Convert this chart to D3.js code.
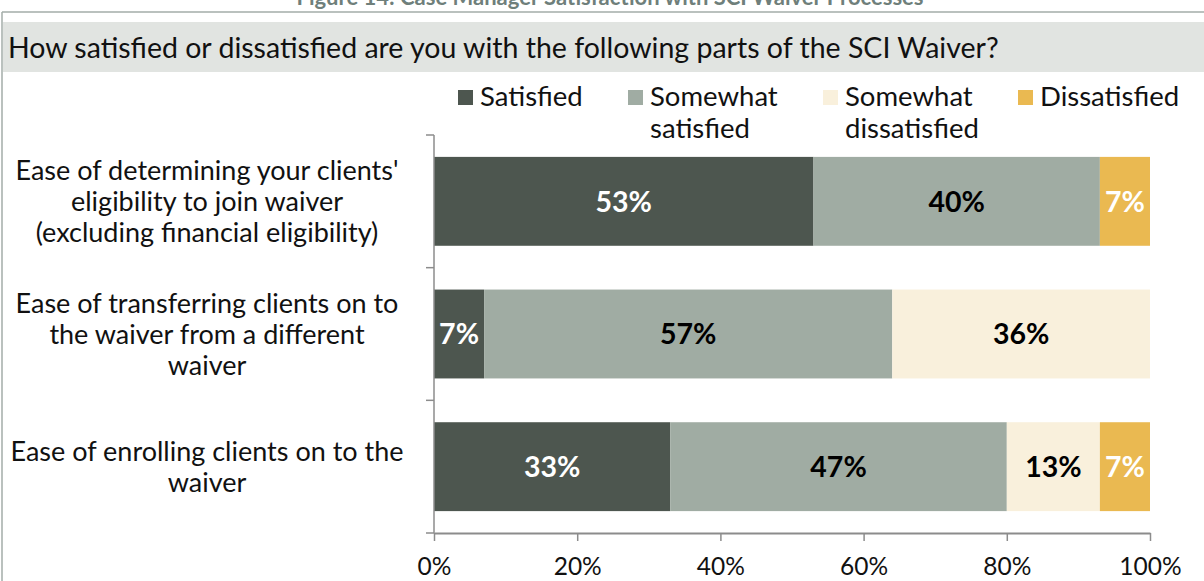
<!DOCTYPE html>
<html>
<head>
<meta charset="utf-8">
<script src="https://cdn.jsdelivr.net/npm/d3@7"></script>
<style>
  body { margin: 0; background: #fff; }
  svg { display: block; font-family: Lato, "Open Sans", sans-serif; }
</style>
</head>
<body>
<div id="chart"></div>
<script>
// data
var categories = [
  ["Ease of determining your clients'", "eligibility to join waiver", "(excluding financial eligibility)"],
  ["Ease of transferring clients on to", "the waiver from a different", "waiver"],
  ["Ease of enrolling clients on to the", "waiver"]
];
var seriesNames = [["Satisfied"], ["Somewhat", "satisfied"], ["Somewhat", "dissatisfied"], ["Dissatisfied"]];
var satisfied = [53, 7, 33];
var somewhatSatisfied = [40, 57, 47];
var somewhatDissatisfied = [0, 36, 13];
var dissatisfied = [7, 0, 7];
var xTicks = [0, 20, 40, 60, 80, 100];

var colors = ["#4d564f", "#a0aca3", "#f9f0dc", "#eab951"];
var labelColors = ["#fff", "#000", "#000", "#fff"];

var width = 1204, height = 581;
var margin = {top: 135, right: 54, bottom: 48, left: 434};
var w = width - margin.left - margin.right,
    h = height - margin.top - margin.bottom;

var svg = d3.select("#chart").append("svg")
  .attr("width", width)
  .attr("height", height);

// title, frame and question band
svg.append("text")
  .attr("x", 610).attr("y", 5)
  .attr("text-anchor", "middle")
  .style("font-size", "22px").style("font-weight", "bold")
  .style("fill", "#6f7f7b")
  .text("Figure 14: Case Manager Satisfaction with SCI Waiver Processes");
svg.append("line").attr("x1", 2).attr("x2", width).attr("y1", 12).attr("y2", 12)
  .style("stroke", "#a3ada8").style("stroke-width", 1.5);
svg.append("line").attr("x1", 2).attr("x2", 2).attr("y1", 12).attr("y2", height)
  .style("stroke", "#a3ada8").style("stroke-width", 1.5);
svg.append("rect").attr("x", 3).attr("y", 22).attr("width", width - 3).attr("height", 50)
  .style("fill", "#e1e4e1");
svg.append("text")
  .attr("x", 8).attr("y", 58)
  .style("font-size", "28.5px").style("fill", "#111")
  .text("How satisfied or dissatisfied are you with the following parts of the SCI Waiver?");

// build stacked rows
var table = categories.map(function(c, i) {
  return {idx: i, s0: satisfied[i], s1: somewhatSatisfied[i], s2: somewhatDissatisfied[i], s3: dissatisfied[i]};
});
var stack = d3.stack().keys(["s0", "s1", "s2", "s3"])(table);

var x = d3.scaleLinear().domain([0, 100]).range([0, w]);
var y = d3.scaleBand().domain(d3.range(categories.length)).range([0, h]).paddingInner(0.33).paddingOuter(0.165);

var g = svg.append("g").attr("transform", "translate(" + margin.left + "," + margin.top + ")");

stack.forEach(function(layer, k) {
  var lg = g.append("g");
  lg.selectAll("rect")
    .data(layer.filter(function(d) { return d[1] - d[0] > 0; }))
    .enter().append("rect")
      .attr("x", function(d) { return x(d[0]); })
      .attr("y", function(d) { return y(d.data.idx); })
      .attr("width", function(d) { return x(d[1]) - x(d[0]); })
      .attr("height", y.bandwidth())
      .style("fill", colors[k]);
  lg.selectAll("text")
    .data(layer.filter(function(d) { return d[1] - d[0] > 0; }))
    .enter().append("text")
      .attr("x", function(d) { return x((d[0] + d[1]) / 2); })
      .attr("y", function(d) { return y(d.data.idx) + y.bandwidth() / 2; })
      .attr("dy", "0.36em")
      .attr("text-anchor", "middle")
      .style("font-size", "28.5px").style("font-weight", "bold")
      .style("fill", labelColors[k])
      .text(function(d) { return (d[1] - d[0]) + "%"; });
});

// x axis
var xAxis = g.append("g")
  .attr("transform", "translate(0," + h + ")")
  .call(d3.axisBottom(x).tickValues(xTicks).tickSize(8).tickSizeOuter(0)
    .tickFormat(function(d) { return d + "%"; }));
xAxis.select(".domain").style("stroke", "#8c8c8c").style("stroke-width", 2);
xAxis.selectAll(".tick line").style("stroke", "#8c8c8c").style("stroke-width", 1.5);
xAxis.selectAll(".tick text").attr("y", 25).style("font-size", "24.5px").style("fill", "#111").style("font-family", "Lato");

// y axis with category boundary ticks
g.append("line").attr("x1", 0).attr("x2", 0).attr("y1", 0).attr("y2", h)
  .style("stroke", "#8c8c8c").style("stroke-width", 1.5);
g.selectAll(".ytick")
  .data(d3.range(categories.length + 1))
  .enter().append("line")
    .attr("x1", -8).attr("x2", 0)
    .attr("y1", function(d) { return d * h / categories.length; })
    .attr("y2", function(d) { return d * h / categories.length; })
    .style("stroke", "#8c8c8c").style("stroke-width", 1.5);

// category labels
var lineH = 31;
categories.forEach(function(lines, i) {
  var cy = y(i) + y.bandwidth() / 2;
  var t = g.append("text")
    .attr("text-anchor", "middle")
    .style("font-size", "27px").style("fill", "#111");
  lines.forEach(function(l, j) {
    t.append("tspan")
      .attr("x", -227)
      .attr("y", cy + (j - (lines.length - 1) / 2) * lineH)
      .attr("dy", "0.36em")
      .text(l);
  });
});

// legend
var legendX = [458, 628, 823, 1018];
seriesNames.forEach(function(name, k) {
  svg.append("rect")
    .attr("x", legendX[k]).attr("y", 90)
    .attr("width", 15).attr("height", 15)
    .style("fill", colors[k]);
  var t = svg.append("text").style("font-size", "27.5px").style("fill", "#111");
  name.forEach(function(l, j) {
    t.append("tspan")
      .attr("x", legendX[k] + 22)
      .attr("y", 106 + j * 32)
      .text(l);
  });
});
</script>
</body>
</html>
